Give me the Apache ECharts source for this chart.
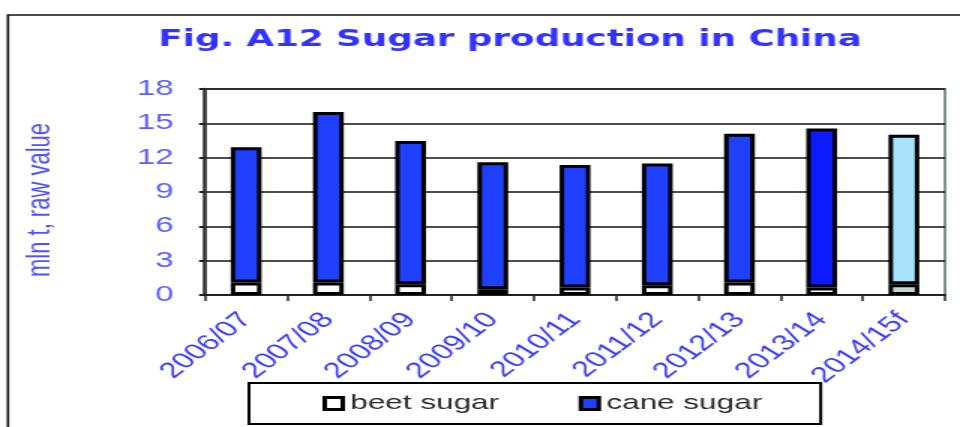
<!DOCTYPE html>
<html>
<head>
<meta charset="utf-8">
<script src="https://cdn.jsdelivr.net/npm/echarts@6/dist/echarts.min.js"></script>
<style>
  html, body { margin: 0; padding: 0; background: #fff; overflow: hidden; }
  /* the source figure is stretched sideways, so draw narrow and widen */
  #chart { width: 640px; height: 427px; transform: scaleX(1.5); transform-origin: 0 0; }
</style>
</head>
<body>
<div id="chart"></div>
<script>
const seasons = ["2006/07", "2007/08", "2008/09", "2009/10", "2010/11", "2011/12", "2012/13", "2013/14", "2014/15f"];
const beetSugar = [1.1, 1.1, 0.95, 0.5, 0.65, 0.85, 1.1, 0.65, 0.95];
const totalSugar = [12.9, 16.0, 13.45, 11.6, 11.35, 11.5, 14.1, 14.55, 14.0];
const caneSugar = totalSugar.map((t, i) => +(t - beetSugar[i]).toFixed(2));
const yTicks = [0, 3, 6, 9, 12, 15, 18];

const blue = "#2040ff";
const darkBlue = "#0c1cff";
const forecastCane = "#a8e4fc";
const forecastBeet = "#c8d4d4";
const lastIdx = seasons.length - 1;

const chart = echarts.init(document.getElementById("chart"), null, { renderer: "canvas" });

const barBorder = { borderColor: "#000", borderWidth: 3 };

chart.setOption({
  animation: false,
  title: {
    text: "Fig. A12 Sugar production in China",
    left: 335, top: 23, textAlign: "center",
    textStyle: { fontFamily: "DejaVu Sans", fontWeight: "bold", fontSize: 23.8, color: "#3333ff" },
  },
  graphic: [
    { type: "rect", shape: { x: 5.3, y: 15, width: 700, height: 440 },
      style: { fill: "none", stroke: "#111", lineWidth: 1.6 }, z: -1 },
    { type: "text", x: 27.3, y: 200, rotation: Math.PI / 2,
      style: { text: "mln t, raw value", textAlign: "center", textVerticalAlign: "middle",
        font: "22px 'Liberation Sans'", fill: "#5050ff" } },
  ],
  legend: {
    left: 166, top: 383,
    padding: [10, 39, 10, 49],
    itemGap: 53, itemWidth: 12, itemHeight: 12,
    borderColor: "#000", borderWidth: 2,
    textStyle: { fontFamily: "Liberation Sans", fontSize: 21, color: "#2a2a2a" },
    data: [
      { name: "beet sugar", icon: "rect", itemStyle: { color: "#fff", borderColor: "#000", borderWidth: 3 } },
      { name: "cane sugar", icon: "rect", itemStyle: { color: blue, borderColor: "#000", borderWidth: 3 } },
    ],
  },
  grid: {
    left: 136.7, right: 10, top: 89, bottom: 132,
    show: true, borderColor: "#7f9090", borderWidth: 2, backgroundColor: "#fff",
  },
  xAxis: {
    type: "category", data: seasons, boundaryGap: true,
    axisLine: { lineStyle: { color: "#222", width: 2 } },
    axisTick: { show: true, alignWithLabel: false, length: 6, lineStyle: { color: "#222", width: 1.5 } },
    axisLabel: {
      rotate: 48, margin: 21, interval: 0,
      fontFamily: "Liberation Sans", fontSize: 22, color: "#3a3aff",
    },
  },
  yAxis: {
    type: "value", min: 0, max: 18, interval: 3,
    axisLine: { show: true, lineStyle: { color: "#333", width: 2.5 } },
    axisTick: { show: true, length: 4, lineStyle: { color: "#222", width: 2 } },
    splitLine: { show: true, lineStyle: { color: "#111", width: 1.5 } },
    axisLabel: {
      margin: 21, fontFamily: "Liberation Sans", fontSize: 22, color: "#5c5cff",
      formatter: v => (yTicks.includes(v) ? String(v) : ""),
    },
  },
  series: [
    {
      name: "beet sugar", type: "bar", stack: "total", barWidth: 20.5,
      itemStyle: Object.assign({ color: "#fff" }, barBorder),
      data: beetSugar.map((v, i) => i === lastIdx
        ? { value: v, itemStyle: { color: forecastBeet } } : v),
    },
    {
      name: "cane sugar", type: "bar", stack: "total", barWidth: 20.5,
      itemStyle: Object.assign({ color: blue }, barBorder),
      data: caneSugar.map((v, i) => i === lastIdx
        ? { value: v, itemStyle: { color: forecastCane } }
        : i === lastIdx - 1 ? { value: v, itemStyle: { color: darkBlue } } : v),
    },
  ],
});
</script>
</body>
</html>
